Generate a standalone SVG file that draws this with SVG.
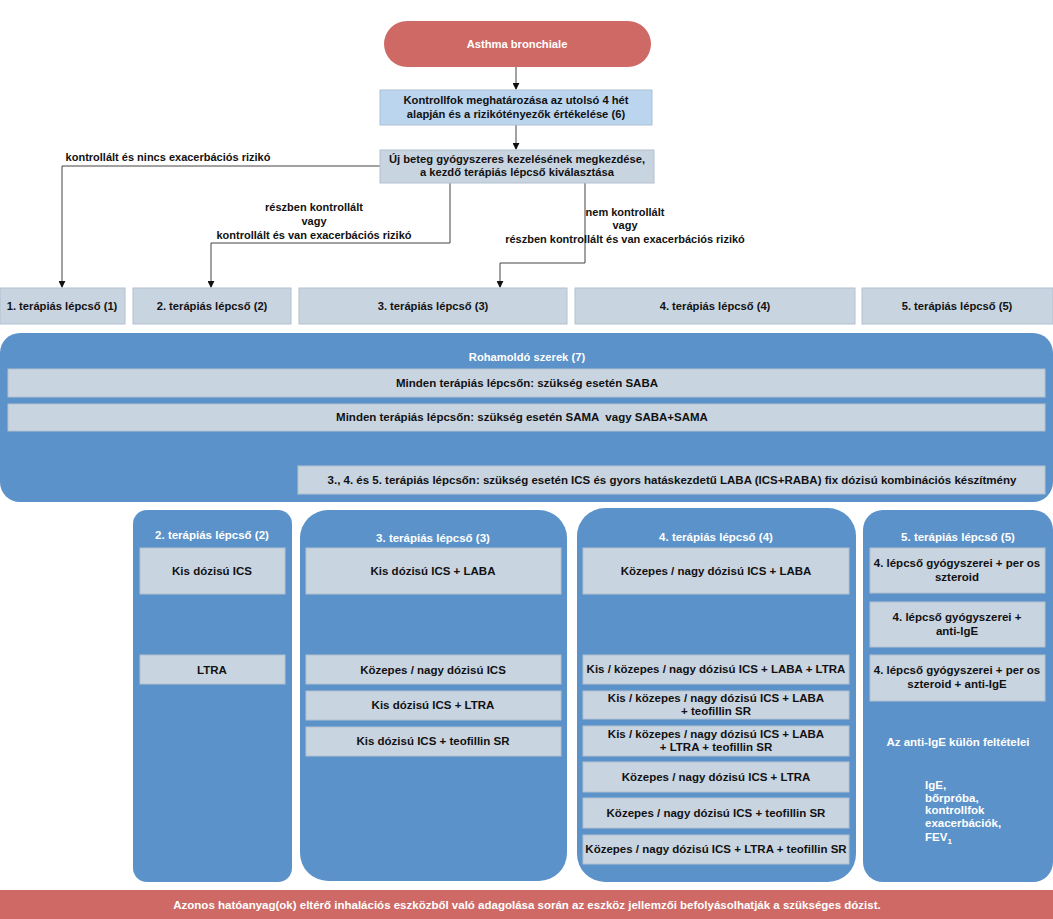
<svg xmlns="http://www.w3.org/2000/svg" width="1053" height="919" viewBox="0 0 1053 919">
<defs>
<style>
text{font-family:"Liberation Sans",Arial,sans-serif;font-size:11.5px;font-weight:bold;fill:#111;text-anchor:middle}
.w{fill:#fff}
.lbl{font-size:11px;fill:#111}
.st{font-size:11.2px}
.red{fill:#cf6965}
.lb{fill:#bcd5ee;stroke:#a9bfd6;stroke-width:1}
.gb{fill:#c9d4e1;stroke:#b3c0cf;stroke-width:1}
.panel{fill:#5b92c9}
.conn{fill:none;stroke:#444;stroke-width:1}
</style>
<marker id="ah" viewBox="0 0 8 8" refX="7" refY="4" markerWidth="7" markerHeight="7" orient="auto" markerUnits="userSpaceOnUse"><path d="M0,0 L8,4 L0,8 z" fill="#111"/></marker>
</defs>

<g id="connectors">
<path class="conn" d="M516,67 V89" marker-end="url(#ah)"/>
<path class="conn" d="M516,125 V149" marker-end="url(#ah)"/>
<path class="conn" d="M380,166 H62 V287" marker-end="url(#ah)"/>
<path class="conn" d="M450,183 V243 H211 V287" marker-end="url(#ah)"/>
<path class="conn" d="M585,183 V263 H500 V287" marker-end="url(#ah)"/>
<text class="lbl" x="168" y="161">kontrollált és nincs exacerbációs rizikó</text>
<text class="lbl" x="314" y="211">részben kontrollált</text>
<text class="lbl" x="314" y="225">vagy</text>
<text class="lbl" x="314" y="239">kontrollált és van exacerbációs rizikó</text>
<text class="lbl" x="625" y="216">nem kontrollált</text>
<text class="lbl" x="625" y="229">vagy</text>
<text class="lbl" x="625" y="243">részben kontrollált és van exacerbációs rizikó</text>
</g>

<g id="asthma"><rect class="red" x="384" y="21" width="267" height="46" rx="23"/><text class="w st" x="517" y="48">Asthma bronchiale</text></g>
<g id="kontrollfok"><rect class="lb" x="380" y="90" width="272" height="35"/><text class="st" x="516" y="104">Kontrollfok meghatározása az utolsó 4 hét</text><text class="st" x="516" y="118">alapján és a rizikótényezők értékelése (6)</text></g>
<g id="uj-beteg"><rect class="gb" x="380" y="150" width="274" height="33"/><text class="st" x="517" y="163">Új beteg gyógyszeres kezelésének megkezdése,</text><text class="st" x="517" y="176">a kezdő terápiás lépcső kiválasztása</text></g>

<g id="step1"><rect class="gb" x="0" y="288" width="125" height="36"/><text class="st" x="62" y="310">1. terápiás lépcső (1)</text></g>
<g id="step2"><rect class="gb" x="133" y="288" width="158" height="36"/><text class="st" x="212" y="310">2. terápiás lépcső (2)</text></g>
<g id="step3"><rect class="gb" x="299" y="288" width="268" height="36"/><text class="st" x="433" y="310">3. terápiás lépcső (3)</text></g>
<g id="step4"><rect class="gb" x="575" y="288" width="280" height="36"/><text class="st" x="715" y="310">4. terápiás lépcső (4)</text></g>
<g id="step5"><rect class="gb" x="862" y="288" width="191" height="36"/><text class="st" x="957" y="310">5. terápiás lépcső (5)</text></g>

<g id="rohamoldo">
<rect class="panel" x="0" y="333" width="1053" height="169" rx="20"/>
<text class="w st" x="527" y="361">Rohamoldó szerek (7)</text>
<rect class="gb" x="8" y="369" width="1037" height="28"/><text x="527" y="387">Minden terápiás lépcsőn: szükség esetén SABA</text>
<rect class="gb" x="8" y="404" width="1037" height="27"/><text x="522" y="421" xml:space="preserve">Minden terápiás lépcsőn: szükség esetén SAMA  vagy SABA+SAMA</text>
<rect class="gb" x="298" y="466" width="747" height="28"/><text x="672" y="484">3., 4. és 5. terápiás lépcsőn: szükség esetén ICS és gyors hatáskezdetű LABA (ICS+RABA) fix dózisú kombinációs készítmény</text>
</g>

<g id="col2">
<rect class="panel" x="133" y="510" width="159" height="372" rx="14"/>
<text class="w" x="212" y="539">2. terápiás lépcső (2)</text>
<rect class="gb" x="140" y="548" width="145" height="46"/><text x="212" y="575">Kis dózisú ICS</text>
<rect class="gb" x="140" y="655" width="145" height="29"/><text x="212" y="674">LTRA</text>
</g>

<g id="col3">
<rect class="panel" x="300" y="510" width="267" height="371" rx="28"/>
<text class="w" x="433" y="542">3. terápiás lépcső (3)</text>
<rect class="gb" x="306" y="548" width="255" height="46"/><text x="433" y="575">Kis dózisú ICS + LABA</text>
<rect class="gb" x="306" y="655" width="255" height="29"/><text x="433" y="674">Közepes / nagy dózisú ICS</text>
<rect class="gb" x="306" y="691" width="255" height="29"/><text x="433" y="709">Kis dózisú ICS + LTRA</text>
<rect class="gb" x="306" y="727" width="255" height="29"/><text x="433" y="745">Kis dózisú ICS + teofillin SR</text>
</g>

<g id="col4">
<rect class="panel" x="577" y="508" width="279" height="374" rx="28"/>
<text class="w" x="716" y="541">4. terápiás lépcső (4)</text>
<rect class="gb" x="583" y="548" width="266" height="46"/><text x="716" y="575">Közepes / nagy dózisú ICS + LABA</text>
<rect class="gb" x="583" y="655" width="266" height="29"/><text x="716" y="673">Kis / közepes / nagy dózisú ICS + LABA + LTRA</text>
<rect class="gb" x="583" y="691" width="266" height="28"/><text x="716" y="702">Kis / közepes / nagy dózisú ICS + LABA</text><text x="716" y="715">+ teofillin SR</text>
<rect class="gb" x="583" y="726" width="266" height="30"/><text x="716" y="738">Kis / közepes / nagy dózisú ICS + LABA</text><text x="716" y="751">+ LTRA + teofillin SR</text>
<rect class="gb" x="583" y="762" width="266" height="30"/><text x="716" y="781">Közepes / nagy dózisú ICS + LTRA</text>
<rect class="gb" x="583" y="798" width="266" height="30"/><text x="716" y="817">Közepes / nagy dózisú ICS + teofillin SR</text>
<rect class="gb" x="583" y="835" width="266" height="29"/><text x="716" y="853">Közepes / nagy dózisú ICS + LTRA + teofillin SR</text>
</g>

<g id="col5">
<rect class="panel" x="863" y="510" width="190" height="372" rx="20"/>
<text class="w" x="958" y="541">5. terápiás lépcső (5)</text>
<rect class="gb" x="870" y="548" width="175" height="45"/><text x="957" y="567">4. lépcső gyógyszerei + per os</text><text x="957" y="581">szteroid</text>
<rect class="gb" x="870" y="602" width="175" height="45"/><text x="957" y="621">4. lépcső gyógyszerei +</text><text x="957" y="635">anti-IgE</text>
<rect class="gb" x="870" y="655" width="175" height="46"/><text x="957" y="674">4. lépcső gyógyszerei + per os</text><text x="957" y="688">szteroid + anti-IgE</text>
<text class="w" x="958" y="746">Az anti-IgE külön feltételei</text>
<text class="w" x="925" y="789" style="text-anchor:start">IgE,</text>
<text class="w" x="925" y="802" style="text-anchor:start">bőrpróba,</text>
<text class="w" x="925" y="814" style="text-anchor:start">kontrollfok</text>
<text class="w" x="925" y="827" style="text-anchor:start">exacerbációk,</text>
<text class="w" x="925" y="841" style="text-anchor:start">FEV<tspan font-size="8" dy="3">1</tspan></text>
</g>

<g id="footer"><rect class="red" x="0" y="890" width="1053" height="29"/><text class="w" x="527" y="909">Azonos hatóanyag(ok) eltérő inhalációs eszközből való adagolása során az eszköz jellemzői befolyásolhatják a szükséges dózist.</text></g>
</svg>
